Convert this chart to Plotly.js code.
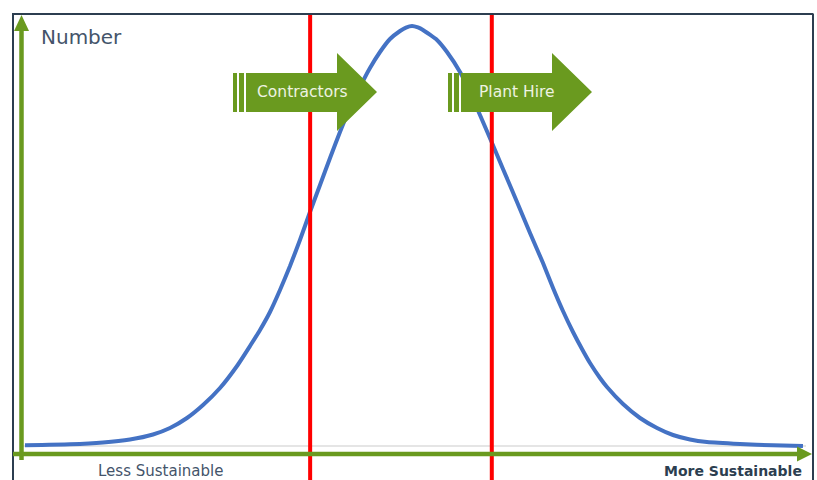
<!DOCTYPE html>
<html>
<head>
<meta charset="utf-8">
<script src="https://cdn.plot.ly/plotly-3.0.1.min.js"></script>
<style>html,body{margin:0;padding:0;background:#fff;}#chart{width:817px;height:480px;}</style>
</head>
<body>
<div id="chart"></div>
<script>
// Sustainability score (0 = less, 100 = more) and relative number of organisations
const score = [0.38, 6.13, 10.34, 13.79, 16.73, 18.90, 21.07, 23.12, 25.29, 27.46, 29.12, 30.40, 31.67,
               32.95, 34.23, 35.50, 36.78, 38.06, 39.34, 40.61, 41.89, 43.17, 44.44, 45.72, 47.00, 48.28, 49.04, 49.81,
               50.57, 51.21, 53.00, 54.28, 55.94, 57.22, 58.49, 60.03, 61.43, 63.22, 64.88, 66.54, 67.82, 69.09,
               70.37, 71.52, 72.54, 73.82, 74.71, 76.76, 78.93, 81.10, 83.14, 85.31, 87.48, 91.70, 95.91, 99.74];
const number = [0.17, 0.40, 0.83, 1.55, 2.74, 4.29, 6.67, 9.76, 13.81, 19.05, 23.81, 27.62, 31.90,
                37.14, 42.86, 49.05, 55.71, 62.14, 68.57, 74.76, 80.48, 85.48, 90.00, 93.81, 96.90, 98.81, 99.62, 100.0,
                99.65, 99.05, 96.67, 93.81, 89.05, 84.29, 78.81, 72.14, 65.95, 58.10, 50.71, 43.57, 37.62, 32.14,
                27.14, 23.10, 19.76, 16.19, 14.05, 10.00, 6.67, 4.29, 2.62, 1.55, 0.95, 0.48, 0.17, 0.0];
const thresholdNames = ["Contractors", "Plant Hire"];
const thresholdScores = [36.8, 60.0];
const yAxisLabel = "Number";
const xLowLabel = "Less Sustainable";
const xHighLabel = "More Sustainable";

const W = 817, H = 480;
const px = v => v / W;
const py = v => 1 - v / H;
const GREEN = "#6a9a1f";
const NAVY = "#2c3e50";
const FONT = "DejaVu Sans";

const shapes = [];
// baseline gray
shapes.push({type:"line", xref:"paper", yref:"y", x0:px(22), x1:px(806), y0:0, y1:0, line:{color:"#dcdcdc", width:1.5}, layer:"below"});
// threshold red lines (above the curve)
thresholdScores.forEach(s => {
  shapes.push({type:"line", xref:"x", yref:"paper", x0:s, x1:s, y0:0, y1:py(15), line:{color:"#ff0000", width:4}});
});
// arrows (above curve and red lines)
const arrowStarts = [233, 448];
const annotations = [];
arrowStarts.forEach((x0, i) => {
  const b = x0 + 13, h = x0 + 104, t = x0 + 144;
  shapes.push({type:"rect", xref:"paper", yref:"paper", x0:px(x0), x1:px(x0+4), y0:py(112), y1:py(73), fillcolor:GREEN, line:{width:0}});
  shapes.push({type:"rect", xref:"paper", yref:"paper", x0:px(x0+6), x1:px(x0+11), y0:py(112), y1:py(73), fillcolor:GREEN, line:{width:0}});
  const path = `M${px(b)},${py(73)} L${px(h)},${py(73)} L${px(h)},${py(53)} L${px(t)},${py(92)} L${px(h)},${py(131)} L${px(h)},${py(112)} L${px(b)},${py(112)} Z`;
  shapes.push({type:"path", xref:"paper", yref:"paper", path:path, fillcolor:GREEN, line:{width:0}});
  annotations.push({xref:"paper", yref:"paper", x:px(x0 + 69), y:py(92), text:thresholdNames[i], showarrow:false,
    xanchor:"center", yanchor:"middle", font:{family:FONT, size:15.5, color:"#eef3e2"}});
});
// frame
shapes.push({type:"line", xref:"paper", yref:"paper", x0:px(12), x1:px(813.5), y0:py(14), y1:py(14), line:{color:NAVY, width:2}});
shapes.push({type:"line", xref:"paper", yref:"paper", x0:px(13), x1:px(13), y0:py(14), y1:0, line:{color:NAVY, width:2}});
shapes.push({type:"line", xref:"paper", yref:"paper", x0:px(813), x1:px(813), y0:py(14), y1:0, line:{color:NAVY, width:2}});
// axis arrows
shapes.push({type:"line", xref:"paper", yref:"paper", x0:px(21.5), x1:px(21.5), y0:py(460), y1:py(28), line:{color:GREEN, width:4.5}});
shapes.push({type:"path", xref:"paper", yref:"paper", path:`M${px(14)},${py(31)} L${px(29)},${py(31)} L${px(21.5)},${py(15)} Z`, fillcolor:GREEN, line:{width:0}});
shapes.push({type:"line", xref:"paper", yref:"paper", x0:px(13), x1:px(800), y0:py(454), y1:py(454), line:{color:GREEN, width:4.5}});
shapes.push({type:"path", xref:"paper", yref:"paper", path:`M${px(797)},${py(446.5)} L${px(812)},${py(454)} L${px(797)},${py(461.5)} Z`, fillcolor:GREEN, line:{width:0}});

annotations.push({xref:"paper", yref:"paper", x:px(39), y:py(37), text:yAxisLabel, showarrow:false, xanchor:"left", yanchor:"middle",
  font:{family:FONT, size:20, color:"#44546a"}});
annotations.push({xref:"paper", yref:"paper", x:px(160), y:py(471), text:xLowLabel, showarrow:false, xanchor:"center", yanchor:"middle",
  font:{family:FONT, size:15, color:"#44546a"}});
annotations.push({xref:"paper", yref:"paper", x:px(804), y:py(471), text:"<b>" + xHighLabel + "</b>", showarrow:false, xanchor:"right", yanchor:"middle",
  font:{family:FONT, size:14, color:NAVY}});

const trace = {x:score, y:number, type:"scatter", mode:"lines", line:{color:"#4472c4", width:4, shape:"spline", smoothing:0.5}, hoverinfo:"skip"};

const layout = {
  width:W, height:H,
  margin:{l:0, r:0, t:0, b:0},
  paper_bgcolor:"#ffffff", plot_bgcolor:"#ffffff",
  showlegend:false,
  xaxis:{range:[(0-22)/7.83, (W-22)/7.83], visible:false, fixedrange:true},
  yaxis:{range:[(446-480)/4.2, 446/4.2], visible:false, fixedrange:true},
  shapes:shapes, annotations:annotations
};
Plotly.newPlot("chart", [trace], layout, {displayModeBar:false, staticPlot:true});
</script>
</body>
</html>
